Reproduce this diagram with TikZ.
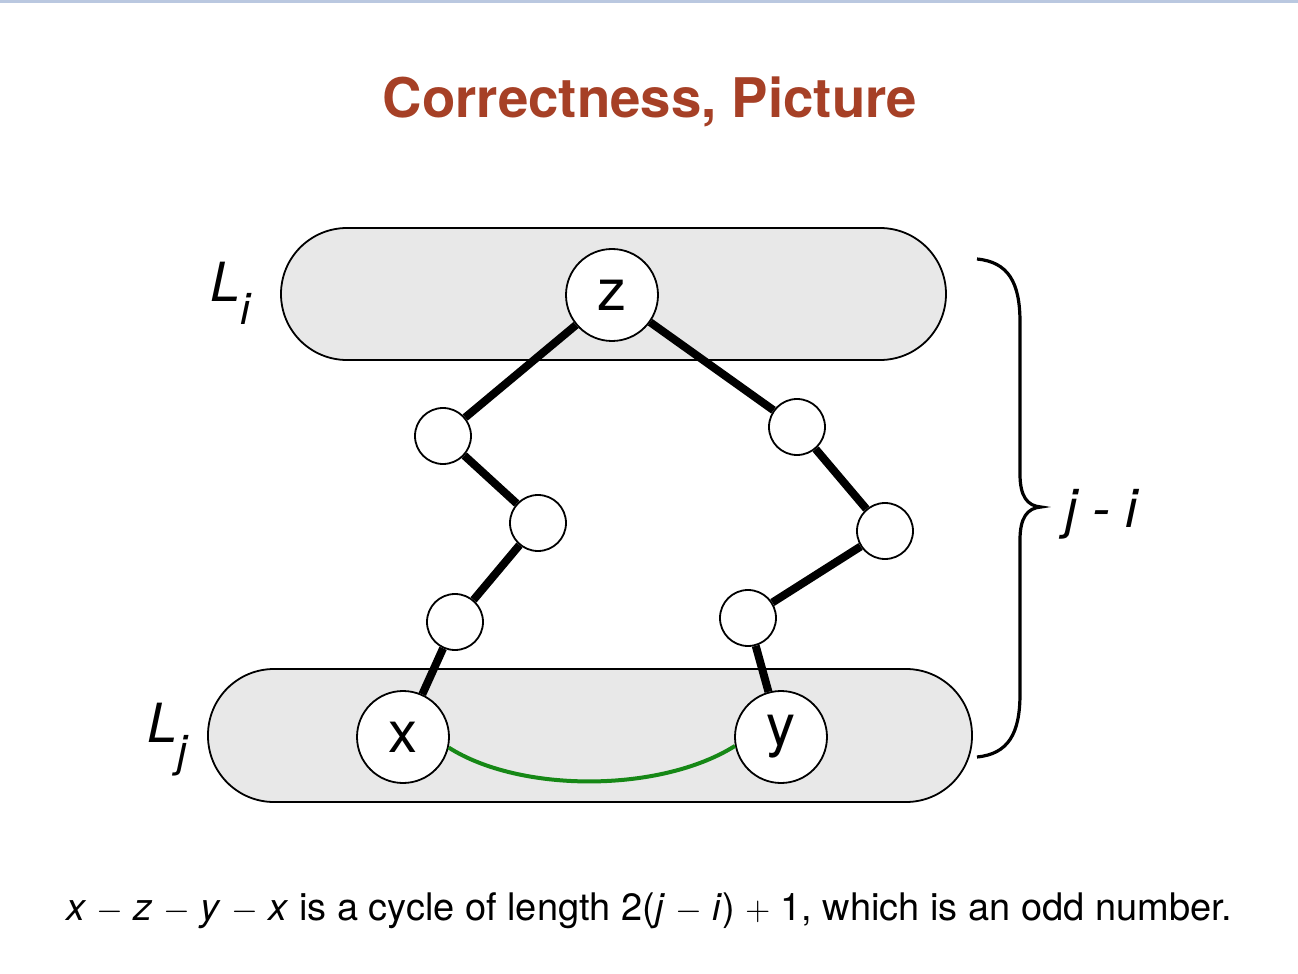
\documentclass[tikz,border=0pt]{standalone}
\usepackage{fontspec}
\setmainfont{TeX Gyre Heros}
\usetikzlibrary{shapes,arrows}
\definecolor{titlered}{RGB}{166,64,38}
\definecolor{layergray}{RGB}{232,232,232}
\definecolor{pathgreen}{RGB}{22,136,22}
\definecolor{topline}{RGB}{186,200,224}
\tikzstyle{layer} = [draw, fill=layergray, rectangle, rounded corners=33pt,
    line width=0.9pt, inner sep=0pt]
\tikzstyle{vertex} = [draw, fill=white, circle, minimum size=46pt,
    inner sep=0pt, line width=0.9pt, font=\fontsize{29}{29}\selectfont]
\tikzstyle{hop} = [draw, fill=white, circle, minimum size=28pt,
    inner sep=0pt, line width=0.9pt]
\tikzstyle{tree} = [line width=4pt]
\tikzstyle{lvl} = [anchor=base west, inner sep=0pt, font=\fontsize{27}{27}\selectfont\itshape]
\newcommand{\lvlsub}[1]{\raisebox{-12pt}{\fontsize{22}{22}\selectfont\itshape #1}}
\newcommand{\binop}[1]{\hspace{0.27em}$#1$\hspace{0.27em}}

\begin{document}
\begin{tikzpicture}[x=0.5pt, y=-0.5pt]
\useasboundingbox (0,0) rectangle (1298,974);
\fill[topline] (0,0) rectangle (1298,3);
% Title
	\node [anchor=base, inner sep=0pt, text=titlered, font=\fontsize{27.3}{33}\selectfont\bfseries] (title) at (650,118) {Correctness, Picture};
% Layers
	\node [layer, minimum width=332.5pt, minimum height=66pt] (Li) at (613.5,294) {};
	\node [layer, minimum width=382pt, minimum height=66.5pt] (Lj) at (590,735.5) {};
	\node [lvl] (labLi) at (210,301) {L\lvlsub{i}};
	\node [lvl] (labLj) at (147,742) {L\lvlsub{j}};
% Vertices
	\node [vertex] (z) at (612,295) {z};
	\node [vertex] (x) at (403,737) {x};
	\node [vertex, right of=x, node distance=189pt] (y) {y};
	%% left branch
	\node [hop] (a1) at (443,436) {};
	\node [hop] (a2) at (538,523) {};
	\node [hop] (a3) at (455,622) {};
	%% right branch
	\node [hop] (b1) at (797,427) {};
	\node [hop] (b2) at (885,531) {};
	\node [hop] (b3) at (748,618) {};
% Tree paths
	\draw [tree] (z) -- (a1) -- (a2) -- (a3) -- (x);
	\draw [tree] (z) -- (b1) -- (b2) -- (b3) -- (y);
% Edge inside L_j
	\draw [pathgreen, line width=2pt] (x.-13) .. controls (520,793) and (660,793) .. (y.191);
% Brace
	\coordinate (braceTop) at (977,259);
	\coordinate (braceBot) at (977,757);
	\coordinate (braceTip) at (1041,507);
	\draw [line width=1.6pt] (braceTop) .. controls (1008,262) and (1020,282) .. (1020,322)
		-- (1020,474) .. controls (1020,496) and (1027,506) .. (braceTip)
		.. controls (1027,508) and (1020,518) .. (1020,540)
		-- (1020,694) .. controls (1020,734) and (1008,754) .. (braceBot);
	\node [anchor=base, inner sep=0pt, font=\fontsize{27}{27}\selectfont\itshape] (jmi) at (1101,527) {j - i};
% Caption
	\node [anchor=base, inner sep=0pt, font=\fontsize{19}{22}\selectfont] (cycle) at (649,920) {\textit{x}\binop{-}\textit{z}\binop{-}\textit{y}\binop{-}\textit{x} is a cycle of length 2(\textit{j}\binop{-}\textit{i})\binop{+}1, which is an odd number.};
\end{tikzpicture}
\end{document}
